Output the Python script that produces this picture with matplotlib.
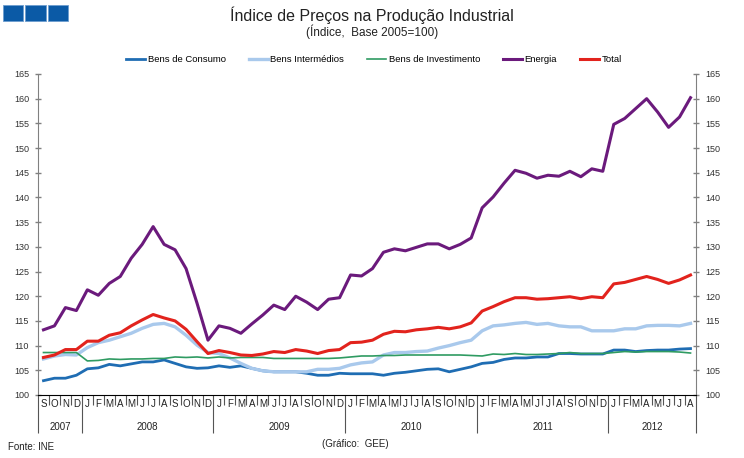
import matplotlib.pyplot as plt
import matplotlib.transforms as mtransforms
from matplotlib.patches import Rectangle

plt.rcParams['font.family'] = ['Liberation Sans', 'DejaVu Sans']
narrow = ['Liberation Sans Narrow', 'Liberation Sans', 'DejaVu Sans']

# months Sep 2007 .. Aug 2012
months = ['S', 'O', 'N', 'D'] + ['J', 'F', 'M', 'A', 'M', 'J', 'J', 'A', 'S', 'O', 'N', 'D'] * 4 + \
         ['J', 'F', 'M', 'A', 'M', 'J', 'J', 'A']
years = ['2007', '2008', '2009', '2010', '2011', '2012']
months_per_year = [4, 12, 12, 12, 12, 8]

consumo = [102.9, 103.4, 103.4, 104.0, 105.3, 105.5, 106.2, 105.9, 106.3, 106.7, 106.7, 107.1,
           106.4, 105.7, 105.4, 105.5, 105.9, 105.6, 105.9, 105.4, 104.9, 104.7, 104.7, 104.7,
           104.4, 104.0, 104.0, 104.4, 104.3, 104.3, 104.3, 104.0, 104.4, 104.6, 104.9, 105.2,
           105.3, 104.7, 105.2, 105.7, 106.4, 106.6, 107.2, 107.5, 107.5, 107.7, 107.7, 108.4,
           108.4, 108.3, 108.3, 108.3, 109.1, 109.1, 108.8, 109.0, 109.1, 109.1, 109.3, 109.4]

intermedios = [107.3, 107.9, 108.2, 108.1, 109.6, 110.6, 111.1, 111.8, 112.5, 113.5, 114.3, 114.5,
               113.8, 112.1, 110.1, 108.6, 108.4, 107.5, 106.4, 105.4, 104.9, 104.7, 104.7, 104.7,
               104.7, 105.2, 105.2, 105.4, 106.1, 106.5, 106.7, 108.1, 108.6, 108.6, 108.8, 108.9,
               109.5, 110.0, 110.6, 111.1, 113.0, 114.0, 114.2, 114.5, 114.7, 114.3, 114.5, 114.0,
               113.8, 113.8, 113.0, 113.0, 113.0, 113.4, 113.4, 114.0, 114.1, 114.1, 114.0, 114.5]

investimento = [108.6, 108.6, 108.6, 108.6, 106.9, 107.0, 107.3, 107.2, 107.3, 107.3, 107.4, 107.4,
                107.7, 107.6, 107.7, 107.5, 107.7, 107.5, 107.6, 107.6, 107.6, 107.4, 107.4, 107.4,
                107.4, 107.4, 107.4, 107.5, 107.7, 107.9, 107.9, 108.0, 108.0, 108.1, 108.1, 108.1,
                108.1, 108.1, 108.1, 108.0, 107.9, 108.3, 108.2, 108.4, 108.2, 108.2, 108.3, 108.4,
                108.6, 108.4, 108.4, 108.4, 108.6, 108.8, 108.7, 108.8, 108.8, 108.8, 108.7, 108.5]

energia = [113.2, 114.0, 117.7, 117.1, 121.3, 120.2, 122.6, 124.0, 127.7, 130.5, 134.1, 130.5,
           129.4, 125.6, 118.6, 111.1, 114.0, 113.5, 112.5, 114.4, 116.2, 118.2, 117.3, 120.0,
           118.8, 117.3, 119.4, 119.7, 124.3, 124.1, 125.6, 128.9, 129.6, 129.2, 129.9, 130.6,
           130.6, 129.6, 130.5, 131.8, 137.9, 140.1, 142.9, 145.5, 144.9, 143.9, 144.5, 144.3,
           145.3, 144.2, 145.8, 145.3, 154.8, 156.0, 158.0, 160.0, 157.3, 154.2, 156.3, 160.2]

total = [107.6, 108.1, 109.2, 109.2, 110.9, 110.9, 112.1, 112.6, 114.0, 115.2, 116.3, 115.6,
         115.0, 113.3, 110.8, 108.4, 109.0, 108.6, 108.1, 108.0, 108.3, 108.8, 108.6, 109.2,
         108.9, 108.4, 109.0, 109.2, 110.6, 110.7, 111.1, 112.3, 112.9, 112.8, 113.2, 113.4,
         113.7, 113.4, 113.8, 114.6, 117.0, 117.9, 118.9, 119.7, 119.7, 119.4, 119.5, 119.7,
         119.9, 119.5, 119.9, 119.7, 122.5, 122.8, 123.4, 124.0, 123.4, 122.6, 123.3, 124.3]

x = list(range(len(months)))

fig = plt.figure(figsize=(7.44, 4.58), dpi=100)
ax = fig.add_axes([38 / 744, 1 - 395 / 458, 658 / 744, 321 / 458])

ax.plot(x, consumo, color='#1f6db3', lw=2.0, label='Bens de Consumo')
ax.plot(x, intermedios, color='#a9c9ec', lw=2.4, label='Bens Intermédios')
ax.plot(x, investimento, color='#2f9b62', lw=1.2, label='Bens de Investimento')
ax.plot(x, energia, color='#6b1a7c', lw=2.2, label='Energia')
ax.plot(x, total, color='#e2231d', lw=2.2, label='Total')

ax.set_xlim(-0.5, len(months) - 0.5)
ax.set_ylim(100, 165)
ax.set_yticks(range(100, 166, 5))
ax.tick_params(axis='y', direction='inout', length=5, width=1, color='#808080',
               labelsize=6.5, labelcolor='#333333', right=True, labelright=True, pad=4)

ax.spines['top'].set_visible(False)
ax.spines['left'].set_color('#808080')
ax.spines['right'].set_color('#808080')
ax.spines['bottom'].set_color('black')

# month separators and year separators below the axis
bounds = [i - 0.5 for i in range(len(months) + 1)]
year_bounds = [-0.5]
for n in months_per_year:
    year_bounds.append(year_bounds[-1] + n)
ax.set_xticks(year_bounds)
ax.set_xticks([b for b in bounds if b not in year_bounds], minor=True)
ax.set_xticklabels([])
ax.tick_params(axis='x', which='major', direction='out', length=27, width=0.8, color='#555555')
ax.tick_params(axis='x', which='minor', direction='out', length=7.5, width=0.8, color='#555555')

trans = mtransforms.blended_transform_factory(ax.transData, ax.transAxes)
for i, m in enumerate(months):
    ax.text(i, -0.013, m, transform=trans, ha='center', va='top', fontsize=7, color='#222222')
for j, yr in enumerate(years):
    ax.text((year_bounds[j] + year_bounds[j + 1]) / 2, -0.085, yr, transform=trans,
            ha='center', va='top', fontsize=7, color='#222222')

# logo squares
for k in range(3):
    fig.patches.append(Rectangle(((3 + k * 22.5) / 744, 1 - 21 / 458), 20 / 744, 16 / 458,
                                 transform=fig.transFigure, facecolor='#0b5aa6',
                                 edgecolor='#6d9dcf', lw=0.6))

fig.text(372 / 744, 1 - 15 / 458, 'Índice de Preços na Produção Industrial', ha='center',
         va='center', fontsize=11.5, color='#222222', family=narrow)
fig.text(372 / 744, 1 - 32 / 458, '(Índice,  Base 2005=100)', ha='center', va='center',
         fontsize=8.5, color='#222222', family=narrow)
fig.text(8 / 744, 1 - 447 / 458, 'Fonte: INE', ha='left', va='center', fontsize=7, color='#222222')
fig.text(355 / 744, 1 - 444 / 458, '(Gráfico:  GEE)', ha='center', va='center', fontsize=7,
         color='#222222')

fig.legend(loc='center', bbox_to_anchor=(374 / 744, 1 - 60 / 458), ncol=5, frameon=False,
           fontsize=6.8, handlelength=2.0, handletextpad=0.3, columnspacing=2.4)

plt.savefig('out.png', dpi=100)
